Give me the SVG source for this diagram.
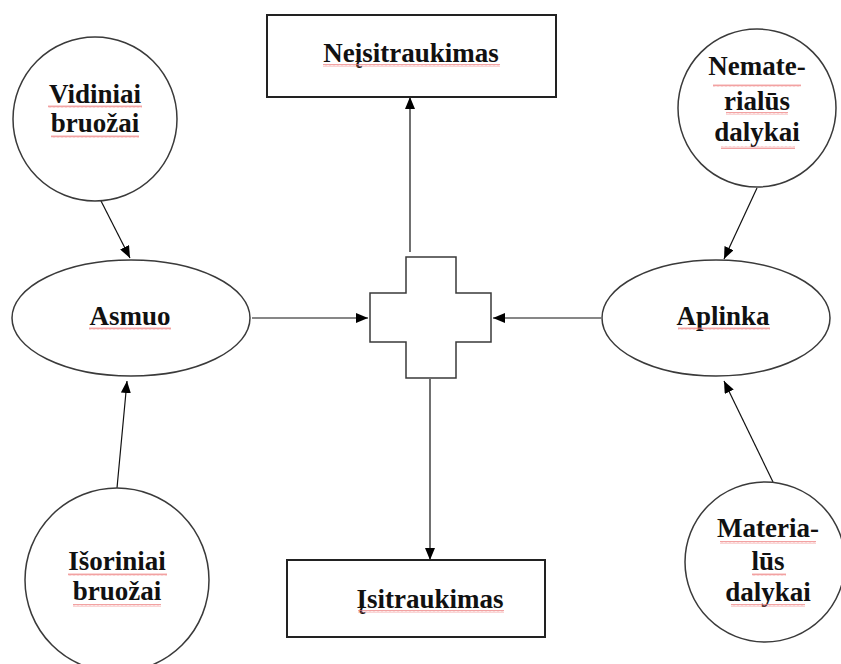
<svg xmlns="http://www.w3.org/2000/svg" width="841" height="664" viewBox="0 0 841 664">
  <defs>
    <style>
      .shape { fill: #ffffff; stroke: #3a3a3a; stroke-width: 1.5; }
      .box { fill: #ffffff; stroke: #222222; stroke-width: 2; }
      .lbl { font-family: 'Liberation Serif', 'Times New Roman', serif; font-weight: bold; font-size: 27px; fill: #111111; text-anchor: middle; }
      .edge { stroke: #111111; stroke-width: 1.2; fill: none; marker-end: url(#head); }
      .squig { fill: url(#wave); }
    </style>
    <marker id="head" viewBox="0 0 12 10" refX="12" refY="5" markerWidth="12" markerHeight="10" markerUnits="userSpaceOnUse" orient="auto">
      <path d="M0,0 L12,5 L0,10 Z" fill="#000000"/>
    </marker>
    <!-- spell-check style wavy underline -->
    <pattern id="wave" width="4" height="3" patternUnits="userSpaceOnUse">
      <path d="M0,2.5 L1,0.5 L2,2.5 L3,0.5 L4,2.5" fill="none" stroke="#ec7a7a" stroke-width="0.7"/>
    </pattern>
  </defs>

  <!-- connectors -->
  <g id="connectors">
    <line class="edge" x1="99" y1="197" x2="130" y2="258"/>
    <line class="edge" x1="117" y1="488" x2="127" y2="381"/>
    <line class="edge" x1="252" y1="318" x2="368" y2="318"/>
    <line class="edge" x1="601" y1="318" x2="493" y2="318"/>
    <line class="edge" x1="757" y1="188" x2="724" y2="259"/>
    <line class="edge" x1="773" y1="482" x2="724" y2="381"/>
    <line class="edge" x1="410" y1="252" x2="410" y2="97"/>
    <line class="edge" x1="430" y1="379" x2="430" y2="560"/>
  </g>

  <g id="neisitraukimas">
    <rect class="box" x="267" y="15" width="289" height="82"/>
    <text class="lbl" x="411" y="62">Neįsitraukimas</text>
    <rect class="squig" x="323" y="64" width="177" height="3"/>
  </g>

  <g id="vidiniai">
    <circle class="shape" cx="95" cy="119" r="82"/>
    <text class="lbl" x="95" y="103">Vidiniai</text>
    <rect class="squig" x="48" y="105" width="94" height="3"/>
    <text class="lbl" x="95" y="132">bruožai</text>
    <rect class="squig" x="51" y="135" width="88" height="3"/>
  </g>

  <g id="nematerialus">
    <circle class="shape" cx="757" cy="108" r="79"/>
    <text class="lbl" x="757" y="75">Nemate-</text>
    <rect class="squig" x="713" y="84" width="88" height="3"/>
    <text class="lbl" x="757" y="110">rialūs</text>
    <rect class="squig" x="726" y="112" width="62" height="3"/>
    <text class="lbl" x="757" y="141">dalykai</text>
    <rect class="squig" x="721" y="146" width="74" height="3"/>
  </g>

  <g id="asmuo">
    <ellipse class="shape" cx="131" cy="318" rx="119" ry="58"/>
    <text class="lbl" x="130" y="325">Asmuo</text>
    <rect class="squig" x="89" y="327" width="82" height="3"/>
  </g>

  <g id="sankirta">
    <path class="shape" d="M406,257 L456,257 L456,293 L491,293 L491,342 L456,342 L456,378 L406,378 L406,342 L370,342 L370,293 L406,293 Z"/>
  </g>

  <g id="aplinka">
    <ellipse class="shape" cx="716" cy="318" rx="114" ry="58"/>
    <text class="lbl" x="723" y="325">Aplinka</text>
    <rect class="squig" x="678" y="327" width="92" height="3"/>
  </g>

  <g id="isoriniai">
    <circle class="shape" cx="117" cy="580" r="92"/>
    <text class="lbl" x="117" y="570">Išoriniai</text>
    <rect class="squig" x="68" y="573" width="99" height="3"/>
    <text class="lbl" x="117" y="600">bruožai</text>
    <rect class="squig" x="73" y="604" width="88" height="3"/>
  </g>

  <g id="isitraukimas">
    <rect class="box" x="287" y="560" width="258" height="77"/>
    <text class="lbl" x="430" y="608">Įsitraukimas</text>
    <rect class="squig" x="358" y="610" width="146" height="3"/>
  </g>

  <g id="materialus">
    <circle class="shape" cx="765" cy="562" r="80"/>
    <text class="lbl" x="768" y="537">Materia-</text>
    <rect class="squig" x="720" y="541" width="96" height="3"/>
    <text class="lbl" x="768" y="570">lūs</text>
    <rect class="squig" x="752" y="573" width="34" height="3"/>
    <text class="lbl" x="768" y="601">dalykai</text>
    <rect class="squig" x="731" y="604" width="74" height="3"/>
  </g>
</svg>
